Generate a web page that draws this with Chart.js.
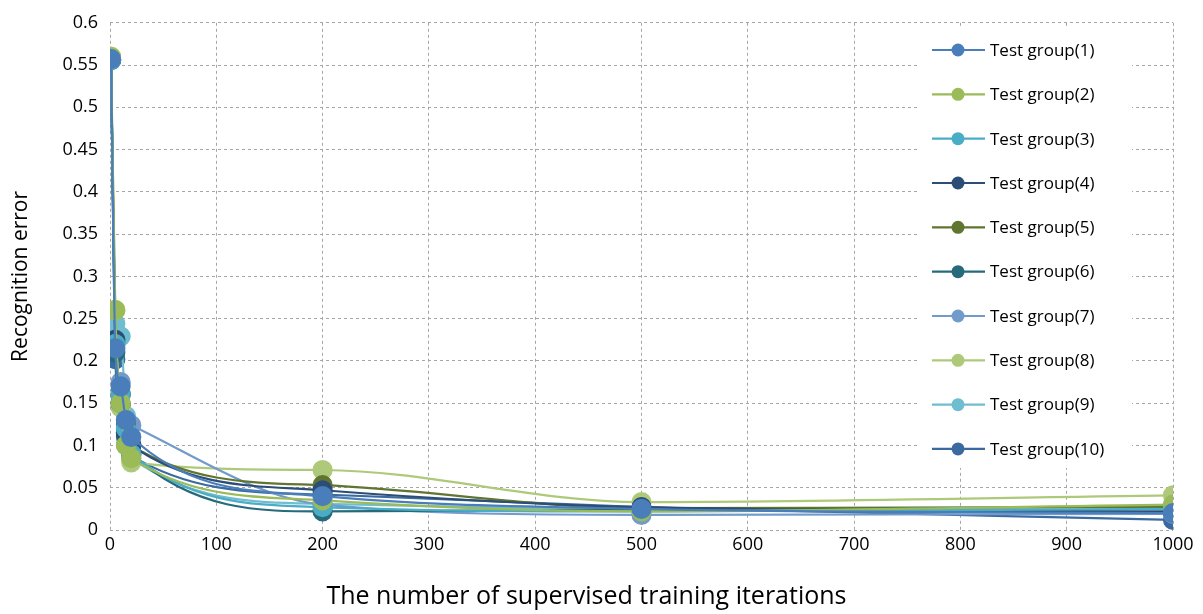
<!DOCTYPE html>
<html>
<head>
<meta charset="utf-8">
<script src="https://cdn.jsdelivr.net/npm/chart.js@4/dist/chart.umd.min.js"></script>
<style>
html,body{margin:0;padding:0;background:#fff;}
#wrap{position:relative;width:1203px;height:614px;}
</style>
</head>
<body>
<div id="wrap"><canvas id="c" width="1203" height="614"></canvas></div>
<script>
const iterations = [1, 5, 10, 15, 20, 200, 500, 1000];
const seriesNames = ["Test group(1)","Test group(2)","Test group(3)","Test group(4)","Test group(5)","Test group(6)","Test group(7)","Test group(8)","Test group(9)","Test group(10)"];
const group1  = [0.557, 0.215, 0.170, 0.130, 0.110, 0.040, 0.025, 0.020];
const group2  = [0.559, 0.260, 0.150, 0.100, 0.085, 0.035, 0.022, 0.030];
const group3  = [0.556, 0.220, 0.160, 0.120, 0.090, 0.027, 0.022, 0.025];
const group4  = [0.557, 0.225, 0.160, 0.115, 0.100, 0.047, 0.027, 0.022];
const group5  = [0.557, 0.222, 0.161, 0.125, 0.100, 0.053, 0.026, 0.027];
const group6  = [0.556, 0.210, 0.150, 0.110, 0.090, 0.022, 0.024, 0.021];
const group7  = [0.556, 0.218, 0.175, 0.130, 0.124, 0.030, 0.018, 0.019];
const group8  = [0.560, 0.260, 0.145, 0.100, 0.080, 0.071, 0.033, 0.041];
const group9  = [0.557, 0.244, 0.229, 0.135, 0.085, 0.031, 0.025, 0.028];
const group10 = [0.556, 0.202, 0.146, 0.115, 0.088, 0.042, 0.027, 0.012];
const allGroups = [group1, group2, group3, group4, group5, group6, group7, group8, group9, group10];
const colors = ["#4A7EBB","#9BBB59","#4BACC6","#2C4D75","#5F7530","#276A7C","#729ACA","#AFC97A","#6FBDD1","#3A6AA0"];
const xTicks = [0,100,200,300,400,500,600,700,800,900,1000];
const yTicks = [0,0.05,0.1,0.15,0.2,0.25,0.3,0.35,0.4,0.45,0.5,0.55,0.6];

const FONT = "'Open Sans', 'Noto Sans', sans-serif";

const datasets = allGroups.map((vals, i) => ({
  label: seriesNames[i],
  data: iterations.map((x, j) => ({x: x, y: vals[j]})),
  borderColor: colors[i],
  backgroundColor: colors[i],
  pointBackgroundColor: colors[i],
  pointBorderColor: colors[i],
  pointRadius: 9,
  pointHoverRadius: 9,
  borderWidth: 2.2,
  showLine: true,
  tension: 0.4,
  cubicInterpolationMode: 'monotone'
}));

const legendPlugin = {
  id: 'insideLegend',
  afterDraw(chart) {
    const ctx = chart.ctx;
    ctx.save();
    ctx.fillStyle = '#fff';
    ctx.fillRect(918, 28, 214, 440);
    const x0 = 932, x1 = 985, mx = 958;
    const y0 = 50, dy = 44.33;
    ctx.font = "17px " + FONT;
    ctx.textBaseline = 'middle';
    chart.data.datasets.forEach((ds, i) => {
      const y = y0 + i * dy;
      ctx.strokeStyle = ds.borderColor;
      ctx.lineWidth = 2.2;
      ctx.beginPath(); ctx.moveTo(x0, y); ctx.lineTo(x1, y); ctx.stroke();
      ctx.fillStyle = ds.borderColor;
      ctx.beginPath(); ctx.arc(mx, y, 6.5, 0, Math.PI*2); ctx.fill();
      ctx.fillStyle = '#000';
      ctx.fillText(ds.label, 990, y + 1);
    });
    ctx.restore();
  }
};

new Chart(document.getElementById('c'), {
  type: 'scatter',
  data: { datasets },
  plugins: [legendPlugin],
  options: {
    responsive: false,
    animation: false,
    layout: { padding: { top: 20, right: 30, left: 0, bottom: 0 } },
    plugins: {
      legend: { display: false },
      tooltip: { enabled: false },
      title: {
        display: true, position: 'bottom',
        text: 'The number of supervised training iterations',
        color: '#000', font: { size: 25, family: FONT, weight: 'normal' },
        padding: { top: 12, bottom: 2 }
      }
    },
    scales: {
      x: {
        type: 'linear', min: 0, max: 1000,
        afterBuildTicks: s => { s.ticks = xTicks.map(v => ({value: v})); },
        afterFit: s => { s.height = 40; },
        border: { display: false, dash: [3,3] },
        grid: { color: '#A6A6A6', lineWidth: 1, drawTicks: false },
        ticks: { color: '#000', font: { size: 18, family: FONT }, padding: 4, maxRotation: 0, callback: v => String(v) }
      },
      y: {
        type: 'linear', min: 0, max: 0.6,
        afterBuildTicks: s => { s.ticks = yTicks.map(v => ({value: v})); },
        afterFit: s => { s.width = 110; },
        border: { display: false, dash: [3,3] },
        grid: { color: '#A6A6A6', lineWidth: 1, drawTicks: false },
        ticks: { color: '#000', font: { size: 18, family: FONT }, padding: 12, callback: v => String(+v.toFixed(2)) },
        title: { display: true, text: 'Recognition error', color: '#000', font: { size: 21, family: FONT }, padding: { top: 8, bottom: 4 } }
      }
    }
  }
});
</script>
</body>
</html>
